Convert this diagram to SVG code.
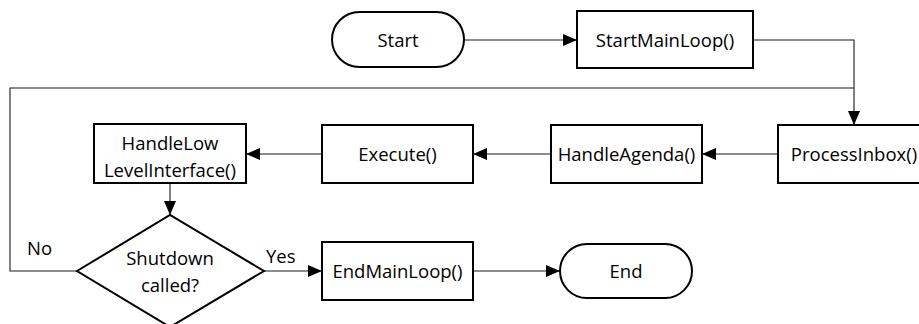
<svg xmlns="http://www.w3.org/2000/svg" width="919" height="324" viewBox="0 0 919 324">
  <defs>
    <marker id="arrow" viewBox="0 0 14 12" refX="14" refY="6" markerWidth="14" markerHeight="12" markerUnits="userSpaceOnUse" orient="auto">
      <polygon points="0,0 14,6 0,12" fill="#000"/>
    </marker>
    <style>
      .box { fill: #fff; stroke: #000; stroke-width: 2; }
      .conn { fill: none; stroke: #1a1a1a; stroke-width: 1.1; }
      .arr { marker-end: url(#arrow); }
      text { font-family: "Open Sans", "Liberation Sans", sans-serif; font-size: 18.5px; fill: #000; text-anchor: middle; }
      .lbl { text-anchor: start; }
    </style>
  </defs>
  <rect width="919" height="324" fill="#fff"/>

  <!-- connectors -->
  <g id="connectors">
    <path class="conn arr" d="M464,40 H577"/>
    <path class="conn arr" d="M753,40 H854 V125"/>
    <path class="conn arr" d="M778,154 H702"/>
    <path class="conn arr" d="M551,154 H473"/>
    <path class="conn arr" d="M322,154 H246"/>
    <path class="conn arr" d="M170,183 V215"/>
    <path class="conn" d="M77,271 H10 V88 H854"/>
    <path class="conn arr" d="M264,271 H322"/>
    <path class="conn arr" d="M473,271 H560"/>
    <text class="lbl" x="27" y="255">No</text>
    <text class="lbl" x="266" y="263">Yes</text>
  </g>

  <g id="start">
    <rect class="box" x="332" y="12" width="132" height="55" rx="27.5" ry="27.5"/>
    <text x="398" y="46.5">Start</text>
  </g>

  <g id="start-main-loop">
    <rect class="box" x="577" y="11" width="176" height="57"/>
    <text x="665" y="46.5">StartMainLoop()</text>
  </g>

  <g id="process-inbox">
    <rect class="box" x="778" y="125" width="152" height="58"/>
    <text x="854" y="160.5">ProcessInbox()</text>
  </g>

  <g id="handle-agenda">
    <rect class="box" x="551" y="125" width="151" height="58"/>
    <text x="626.5" y="160.5">HandleAgenda()</text>
  </g>

  <g id="execute">
    <rect class="box" x="322" y="125" width="151" height="58"/>
    <text x="397.5" y="160.5">Execute()</text>
  </g>

  <g id="handle-low-level-interface">
    <rect class="box" x="94" y="124" width="152" height="59"/>
    <text x="170" y="149.5">HandleLow</text>
    <text x="170" y="176.5">LevelInterface()</text>
  </g>

  <g id="shutdown-called">
    <polygon class="box" points="77,271 170,215 264,271 170,327"/>
    <text x="170" y="264.5">Shutdown</text>
    <text x="170" y="291.5">called?</text>
  </g>

  <g id="end-main-loop">
    <rect class="box" x="322" y="242" width="151" height="58"/>
    <text x="397.5" y="277.5">EndMainLoop()</text>
  </g>

  <g id="end">
    <rect class="box" x="560" y="244" width="132" height="54" rx="27" ry="27"/>
    <text x="626" y="277.5">End</text>
  </g>
</svg>
